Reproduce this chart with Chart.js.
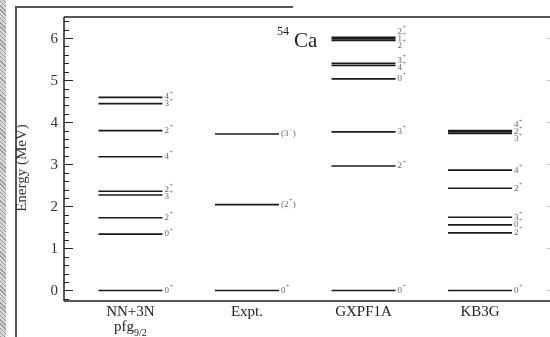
<!DOCTYPE html>
<html>
<head>
<meta charset="utf-8">
<script src="https://cdn.jsdelivr.net/npm/chart.js@4.4.1/dist/chart.umd.min.js"></script>
<style>
  html, body { margin: 0; padding: 0; background: #fff; }
  #wrap { position: relative; width: 550px; height: 337px; overflow: hidden; }
  #strip { position: absolute; left: 0; top: 0; width: 6px; height: 337px;
    background: repeating-linear-gradient(45deg, #9a9a9a 0 1px, #d8d8d8 1px 3px); }
  #vline { position: absolute; left: 15px; top: 6px; width: 2px; height: 331px; background: #555; }
  #hline { position: absolute; left: 15px; top: 6px; width: 278px; height: 2px; background: #555; }
  #box { position: absolute; left: 0; top: 0; width: 550px; height: 337px; }
</style>
</head>
<body>
<div id="wrap">
  <div id="strip"></div>
  <div id="vline"></div>
  <div id="hline"></div>
  <div id="box"><canvas id="niveis"></canvas></div>
</div>
<script>
// Categorias (colunas do esquema de níveis)
const categorias = ['NN+3N', 'Expt.', 'GXPF1A', 'KB3G'];

// Energias dos níveis (MeV) e spins/paridades
const energiasNN3N = [0, 1.34, 1.73, 2.27, 2.36, 3.18, 3.80, 4.44, 4.59];
const spinsNN3N = ['0+', '0+', '2+', '3+', '2+', '4+', '2+', '3+', '4+'];

const energiasExpt = [0, 2.04, 3.72];
const spinsExpt = ['0+', '(2+)', '(3-)'];

const energiasGXPF1A = [0, 2.96, 3.77, 5.03, 5.35, 5.40, 5.94, 5.98, 6.02];
const spinsGXPF1A = ['0+', '2+', '3+', '0+', '4+', '3+', '2+', '1+', '2+'];

const energiasKB3G = [0, 1.37, 1.56, 1.74, 2.43, 2.86, 3.73, 3.77, 3.80];
const spinsKB3G = ['0+', '2+', '0+', '3+', '2+', '4+', '3+', '2+', '4+'];

// Ticks do eixo de energia
const ticksEnergia = [0, 1, 2, 3, 4, 5, 6];

const energias = [energiasNN3N, energiasExpt, energiasGXPF1A, energiasKB3G];
const spins = [spinsNN3N, spinsExpt, spinsGXPF1A, spinsKB3G];

const SERIF = "'Liberation Serif', 'DejaVu Serif', serif";

// Espalha rótulos próximos para não sobrepor
function separarRotulos(ys, gap) {
    let grupos = ys.map(y => ({ ys: [y], c: y }));
    let mudou = true;
    const pos = g => g.ys.map((_, i) => g.c - (g.ys.length - 1) / 2 * gap + i * gap);
    while (mudou) {
        mudou = false;
        for (let i = 0; i < grupos.length - 1; i++) {
            const a = pos(grupos[i]), b = pos(grupos[i + 1]);
            if (b[0] - a[a.length - 1] < gap) {
                const ys2 = grupos[i].ys.concat(grupos[i + 1].ys);
                grupos.splice(i, 2, { ys: ys2, c: ys2.reduce((s, v) => s + v, 0) / ys2.length });
                mudou = true;
                break;
            }
        }
    }
    return grupos.flatMap(pos);
}

function desenharSpin(ctx, txt, x, y) {
    const m = txt.match(/^(\(?)(\d+)([+-])(\)?)$/);
    ctx.textAlign = 'left';
    ctx.textBaseline = 'middle';
    ctx.font = '9px ' + SERIF;
    let cx = x;
    const antes = m[1] + m[2];
    ctx.fillText(antes, cx, y);
    cx += ctx.measureText(antes).width;
    ctx.font = '6px ' + SERIF;
    const sinal = m[3] === '-' ? '\u2212' : '+';
    ctx.fillText(sinal, cx + 0.5, y - 4);
    cx += ctx.measureText(sinal).width + 1;
    if (m[4]) {
        ctx.font = '9px ' + SERIF;
        ctx.fillText(m[4], cx, y);
    }
}

const pluginEsquema = {
    id: 'esquema',
    afterDatasetsDraw(chart) {
        const { ctx, chartArea: a, scales: { x, y } } = chart;
        ctx.save();

        // moldura do gráfico
        ctx.strokeStyle = '#222';
        ctx.lineWidth = 1.5;
        ctx.beginPath();
        ctx.moveTo(a.left, a.top); ctx.lineTo(a.right, a.top);
        ctx.moveTo(a.left, a.top); ctx.lineTo(a.left, a.bottom);
        ctx.moveTo(a.left, a.bottom); ctx.lineTo(a.right, a.bottom);
        ctx.stroke();

        // ticks menores e maiores (para dentro)
        ctx.lineWidth = 1.2;
        ctx.beginPath();
        for (let k = -1; k <= 32; k++) {
            const v = k * 0.2;
            if (v < y.min || v > y.max) continue;
            const py = Math.round(y.getPixelForValue(v)) + 0.5;
            const maior = k % 5 === 0;
            ctx.moveTo(a.left, py);
            ctx.lineTo(a.left + (maior ? 9 : 5), py);
        }
        ctx.stroke();
        ctx.strokeStyle = '#ccc';
        ctx.beginPath();
        ticksEnergia.forEach(v => {
            const py = Math.round(y.getPixelForValue(v)) + 0.5;
            ctx.moveTo(a.right, py);
            ctx.lineTo(a.right - 4, py);
        });
        ctx.stroke();

        // rótulos do eixo de energia
        ctx.fillStyle = '#333';
        ctx.font = '15px ' + SERIF;
        ctx.textAlign = 'right';
        ctx.textBaseline = 'middle';
        ticksEnergia.forEach(v => ctx.fillText(String(v), a.left - 6, y.getPixelForValue(v) + 1));

        // título do eixo
        ctx.save();
        ctx.translate(22, 168);
        ctx.rotate(-Math.PI / 2);
        ctx.textAlign = 'center';
        ctx.font = '15px ' + SERIF;
        ctx.fillText('Energy (MeV)', 0, 0);
        ctx.restore();

        // categorias
        ctx.fillStyle = '#222';
        ctx.textAlign = 'center';
        ctx.textBaseline = 'alphabetic';
        categorias.forEach((c, i) => {
            ctx.font = '15px ' + SERIF;
            ctx.fillText(c, x.getPixelForValue(i + 1), a.bottom + 15);
        });
        // pfg_{9/2} abaixo de NN+3N
        const px = x.getPixelForValue(1);
        ctx.font = '15px ' + SERIF;
        const wP = ctx.measureText('pfg').width;
        ctx.font = '10px ' + SERIF;
        const wS = ctx.measureText('9/2').width;
        const x0 = px - (wP + wS) / 2;
        ctx.textAlign = 'left';
        ctx.font = '15px ' + SERIF;
        ctx.fillText('pfg', x0, a.bottom + 30);
        ctx.font = '10px ' + SERIF;
        ctx.fillText('9/2', x0 + wP, a.bottom + 35);

        // 54Ca
        ctx.font = '21px ' + SERIF;
        ctx.fillText('Ca', 294, 47);
        ctx.font = '12px ' + SERIF;
        ctx.fillText('54', 277, 35);

        // spins de cada nível
        ctx.fillStyle = '#666';
        chart.data.datasets.forEach((ds, i) => {
            const meta = chart.getDatasetMeta(i);
            const itens = meta.data.map((p, j) => ({ p, s: spins[i][j] }))
                .sort((u, v) => u.p.y - v.p.y);
            const ys = separarRotulos(itens.map(it => it.p.y), 7);
            itens.forEach((it, j) => desenharSpin(ctx, it.s, it.p.x + 34, ys[j]));
        });

        ctx.restore();
    }
};

new Chart(document.getElementById('niveis'), {
    type: 'scatter',
    data: {
        datasets: energias.map((lista, i) => ({
            label: categorias[i],
            data: lista.map(e => ({ x: i + 1, y: e })),
            pointStyle: 'line',
            pointRadius: 32,
            borderWidth: 1.6,
            borderColor: '#1a1a1a',
            backgroundColor: '#1a1a1a',
            clip: false
        }))
    },
    options: {
        responsive: true,
        maintainAspectRatio: false,
        animation: false,
        events: [],
        layout: { autoPadding: false, padding: { left: 64, top: 17, right: 0, bottom: 36 } },
        plugins: { legend: { display: false }, tooltip: { enabled: false } },
        scales: {
            x: { type: 'linear', min: 0.43, max: 4.6, display: false },
            y: { type: 'linear', min: -0.25, max: 6.5, display: false }
        }
    },
    plugins: [pluginEsquema]
});
</script>
</body>
</html>
